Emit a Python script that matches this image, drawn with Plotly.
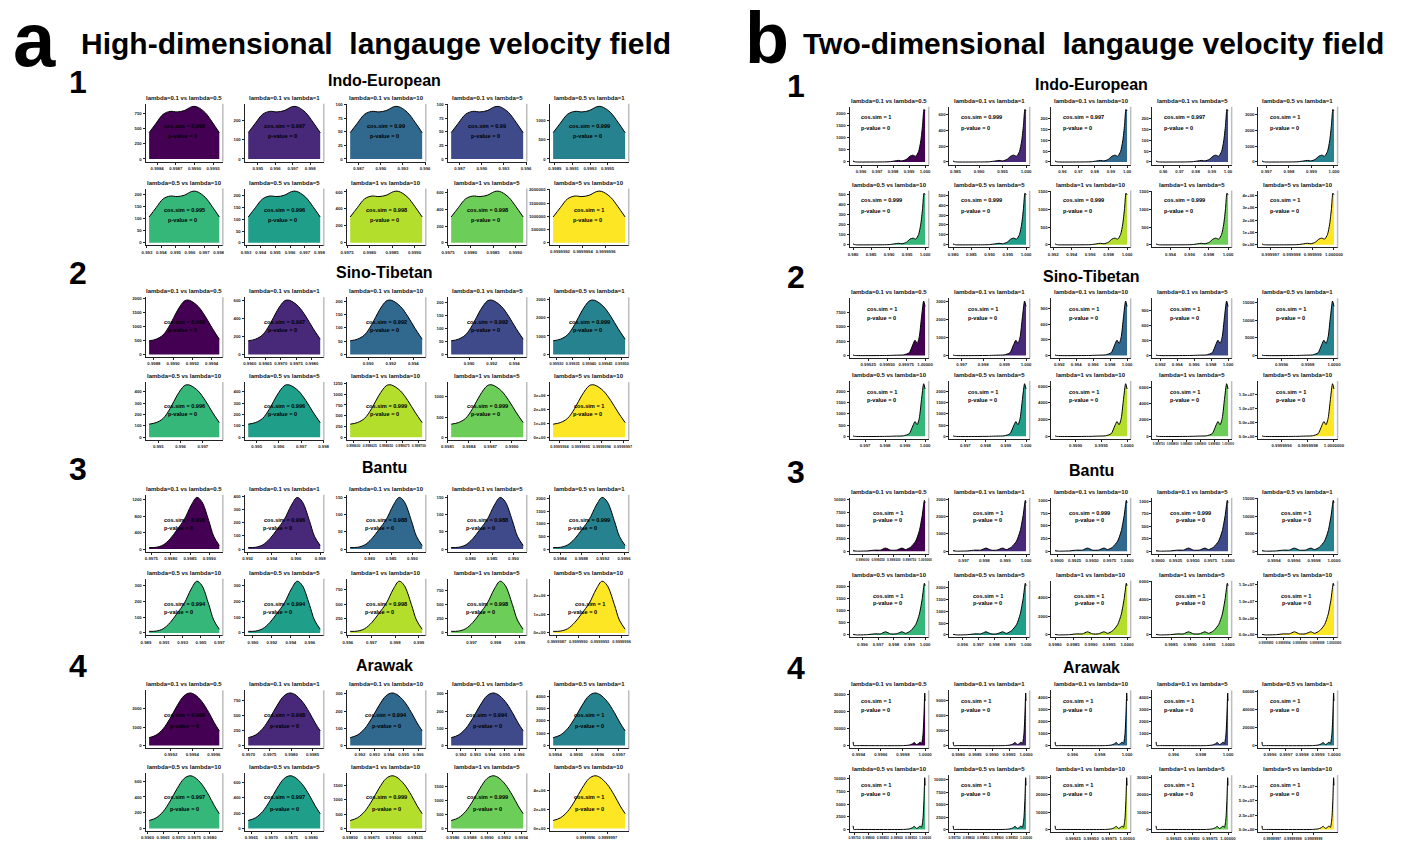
import plotly.graph_objects as go

W, H = 1402, 843
FONT = "Liberation Sans, Arial, sans-serif"

# ---------------- data ----------------
PAIR_LABELS = ["lambda=0.1 vs lambda=0.5", "lambda=0.1 vs lambda=1", "lambda=0.1 vs lambda=10",
               "lambda=0.1 vs lambda=5", "lambda=0.5 vs lambda=1", "lambda=0.5 vs lambda=10",
               "lambda=0.5 vs lambda=5", "lambda=1 vs lambda=10", "lambda=1 vs lambda=5",
               "lambda=5 vs lambda=10"]
PAIR_COLORS = ["#440154", "#482878", "#31688E", "#3E4A89", "#26828E",
               "#35B779", "#1F9E89", "#B4DE2C", "#6DCD59", "#FDE725"]
FAMILIES = ["Indo-European", "Sino-Tibetan", "Bantu", "Arawak"]
PANEL_TITLES = ["High-dimensional\u00a0 langauge velocity field", "Two-dimensional\u00a0 langauge velocity field"]

# density profiles (relative position across range, relative height)
A_T_IE = [0, 0.1, 0.2, 0.3, 0.4, 0.5, 0.6, 0.65, 0.7, 0.8, 0.9, 1.0]
A_Y_IE = [0.50, 0.68, 0.85, 0.905, 0.895, 0.92, 0.99, 1.0, 0.98, 0.88, 0.70, 0.50]
A_T_ST = [0, 0.1, 0.2, 0.3, 0.4, 0.5, 0.55, 0.6, 0.7, 0.8, 0.9, 1.0]
A_Y_ST = [0.25, 0.28, 0.36, 0.55, 0.80, 0.98, 1.0, 0.98, 0.88, 0.70, 0.48, 0.28]
A_T_BA = [0, 0.1, 0.2, 0.3, 0.4, 0.5, 0.6, 0.68, 0.75, 0.85, 0.92, 1.0]
A_Y_BA = [0.03, 0.035, 0.08, 0.2, 0.38, 0.57, 0.85, 1.0, 0.92, 0.55, 0.25, 0.07]
A_T_AR = [0, 0.1, 0.2, 0.3, 0.4, 0.5, 0.58, 0.65, 0.75, 0.85, 0.93, 1.0]
A_Y_AR = [0.15, 0.2, 0.32, 0.52, 0.76, 0.95, 1.0, 0.97, 0.84, 0.63, 0.43, 0.28]

B_T_IE = [0, 0.02, 0.05, 0.3, 0.5, 0.58, 0.63, 0.68, 0.74, 0.79, 0.83, 0.87, 0.91, 0.94, 0.965, 0.985, 1.0]
B_Y_IE = [0.02, 0.005, 0.0, 0.0, 0.004, 0.02, 0.03, 0.02, 0.05, 0.11, 0.13, 0.11, 0.2, 0.4, 0.7, 1.0, 0.97]
B_T_ST = [0, 0.02, 0.5, 0.6, 0.7, 0.78, 0.83, 0.86, 0.89, 0.92, 0.95, 0.98, 1.0]
B_Y_ST = [0.01, 0.0, 0.0, 0.005, 0.01, 0.05, 0.2, 0.28, 0.22, 0.35, 0.7, 1.0, 0.9]
B_T_BA = [0, 0.05, 0.2, 0.3, 0.38, 0.45, 0.52, 0.6, 0.68, 0.73, 0.8, 0.87, 0.92, 0.96, 0.99, 1.0]
B_Y_BA = [0.01, 0.0, 0.005, 0.02, 0.02, 0.06, 0.02, 0.02, 0.06, 0.03, 0.08, 0.2, 0.4, 0.7, 1.0, 0.95]
B_T_AR = [0, 0.01, 0.05, 0.7, 0.78, 0.82, 0.85, 0.88, 0.91, 0.93, 0.95, 0.97, 0.985, 0.995, 1.0]
B_Y_AR = [0.07, 0.0, 0.0, 0.0, 0.01, 0.03, 0.06, 0.02, 0.04, 0.07, 0.04, 0.2, 0.6, 1.0, 0.85]

# ---- panel a: Indo-European
A_IE_XMIN = [0.99827, 0.99445, 0.98585, 0.98585, 0.99888, 0.99315, 0.99315, 0.99757, 0.99757, 0.99999914]
A_IE_XMAX = [0.99940, 0.99857, 0.99560, 0.99560, 0.99970, 0.99805, 0.99805, 0.99917, 0.99917, 0.99999977]
A_IE_PEAK = [870, 270, 97, 97, 1350, 215, 220, 610, 620, 1950000]
A_IE_YSTEP = [250, 100, 25, 25, 500, 50, 50, 200, 200, 500000]
A_IE_COS = ["0.999", "0.997", "0.99", "0.99", "0.999", "0.995", "0.996", "0.998", "0.998", "1"]
A_IE_XTICKS = [["0.9984", "0.9987", "0.9990", "0.9993"], ["0.995", "0.996", "0.997", "0.998"],
               ["0.987", "0.990", "0.993", "0.996"], ["0.987", "0.990", "0.993", "0.996"],
               ["0.9989", "0.9991", "0.9993", "0.9995"],
               ["0.993", "0.994", "0.995", "0.996", "0.997", "0.998"],
               ["0.993", "0.994", "0.995", "0.996", "0.997", "0.998"],
               ["0.9975", "0.9980", "0.9985", "0.9990"], ["0.9975", "0.9980", "0.9985", "0.9990"],
               ["0.9999992", "0.9999994", "0.9999996"]]
# ---- panel a: Sino-Tibetan
A_ST_XMIN = [0.99875, 0.99595, 0.98841, 0.98841, 0.99929, 0.99459, 0.99462, 0.998595, 0.99815, 0.99999937]
A_ST_XMAX = [0.99948, 0.99827, 0.99478, 0.99478, 0.99951, 0.99774, 0.99785, 0.998705, 0.99916, 0.99999971]
A_ST_PEAK = [1950, 600, 205, 210, 2950, 460, 460, 1220, 1300, 3800000]
A_ST_YSTEP = [500, 200, 50, 50, 1000, 100, 100, 250, 500, 1000000]
A_ST_COS = ["0.999", "0.997", "0.992", "0.992", "0.999", "0.996", "0.996", "0.999", "0.999", "1"]
A_ST_XTICKS = [["0.9988", "0.9990", "0.9992", "0.9994"], ["0.9960", "0.9965", "0.9970", "0.9975", "0.9980"],
               ["0.990", "0.992", "0.994"], ["0.990", "0.992", "0.994"],
               ["0.99930", "0.99935", "0.99940", "0.99945", "0.99950"],
               ["0.995", "0.996", "0.997"], ["0.995", "0.996", "0.997", "0.998"],
               ["0.998600", "0.998625", "0.998650", "0.998675", "0.998700"],
               ["0.9981", "0.9984", "0.9987", "0.9990"],
               ["0.9999994", "0.9999995", "0.9999996", "0.9999997"]]
# ---- panel a: Bantu
A_BA_XMIN = [0.99744, 0.99205, 0.97545, 0.97545, 0.99827, 0.98934, 0.98950, 0.99610, 0.99615, 0.99999865]
A_BA_XMAX = [0.99926, 0.99800, 0.99227, 0.99227, 0.99962, 0.99700, 0.99710, 0.99914, 0.99914, 0.99999965]
A_BA_PEAK = [1250, 390, 150, 150, 2050, 330, 330, 900, 910, 2750000]
A_BA_YSTEP = [400, 100, 50, 50, 500, 100, 100, 250, 250, 1000000]
A_BA_COS = ["0.999", "0.996", "0.988", "0.988", "0.999", "0.994", "0.994", "0.998", "0.998", "1"]
A_BA_XTICKS = [["0.9975", "0.9980", "0.9985", "0.9990"], ["0.992", "0.994", "0.996", "0.998"],
               ["0.980", "0.985", "0.990"], ["0.980", "0.985", "0.990"],
               ["0.9984", "0.9988", "0.9992", "0.9996"],
               ["0.989", "0.991", "0.993", "0.995", "0.997"], ["0.990", "0.992", "0.994", "0.996"],
               ["0.996", "0.997", "0.998", "0.999"], ["0.997", "0.998", "0.999"],
               ["0.9999987", "0.9999990", "0.9999993", "0.9999996"]]
# ---- panel a: Arawak
A_AR_XMIN = [0.99900, 0.99699, 0.99133, 0.99133, 0.99939, 0.99605, 0.99642, 0.99850, 0.99858, 0.99999945]
A_AR_XMAX = [0.99965, 0.99868, 0.99627, 0.99627, 0.99973, 0.99830, 0.99822, 0.99933, 0.99942, 0.99999978]
A_AR_PEAK = [2850, 870, 305, 305, 4250, 670, 690, 1850, 1900, 5500000]
A_AR_YSTEP = [1000, 250, 100, 100, 1000, 200, 200, 500, 500, 2000000]
A_AR_COS = ["0.999", "0.998", "0.994", "0.994", "1", "0.997", "0.997", "0.999", "0.999", "1"]
A_AR_XTICKS = [["0.9992", "0.9994", "0.9996"], ["0.9970", "0.9975", "0.9980", "0.9985"],
               ["0.992", "0.993", "0.994", "0.995", "0.996"], ["0.992", "0.993", "0.994", "0.995", "0.996"],
               ["0.9994", "0.9995", "0.9996", "0.9997"],
               ["0.9960", "0.9965", "0.9970", "0.9975", "0.9980"], ["0.9965", "0.9970", "0.9975", "0.9980"],
               ["0.99850", "0.99875", "0.99900", "0.99925"], ["0.9986", "0.9988", "0.9990", "0.9992", "0.9994"],
               ["0.9999996", "0.9999997"]]

# ---- panel b: Indo-European
B_IE_XMIN = [0.9955, 0.9845, 0.9555, 0.9555, 0.9968, 0.9800, 0.9800, 0.9922, 0.9925, 0.9999966]
B_IE_XMAX = [1.0] * 10
B_IE_PEAK = [2150, 660, 240, 240, 3350, 510, 520, 1450, 1450, 4200000]
B_IE_YSTEP = [500, 200, 50, 50, 1000, 100, 100, 500, 500, 1000000]
B_IE_COS = ["1", "0.999", "0.997", "0.997", "1", "0.999", "0.999", "0.999", "0.999", "1"]
B_IE_XTICKS = [["0.996", "0.997", "0.998", "0.999", "1.000"], ["0.985", "0.990", "0.995", "1.000"],
               ["0.96", "0.97", "0.98", "0.99", "1.00"], ["0.96", "0.97", "0.98", "0.99", "1.00"],
               ["0.997", "0.998", "0.999", "1.000"],
               ["0.980", "0.985", "0.990", "0.995", "1.000"], ["0.980", "0.985", "0.990", "0.995", "1.000"],
               ["0.992", "0.994", "0.996", "0.998", "1.000"], ["0.994", "0.996", "0.998", "1.000"],
               ["0.999997", "0.999998", "0.999999", "1.000000"]]
# ---- panel b: Sino-Tibetan
B_ST_XMIN = [0.99905, 0.9966, 0.9915, 0.9915, 0.99945, 0.9964, 0.9964, 0.9986, 0.99974, 0.99999945]
B_ST_XMAX = [1.0] * 10
B_ST_PEAK = [9500, 3000, 1050, 1100, 15500, 2350, 2350, 6300, 6400, 19000000]
B_ST_YSTEP = [2500, 1000, 300, 300, 5000, 500, 500, 2000, 2000, 5000000]
B_ST_COS = ["1"] * 10
B_ST_XTICKS = [["0.99925", "0.99950", "0.99975", "1.00000"], ["0.997", "0.998", "0.999", "1.000"],
               ["0.992", "0.994", "0.996", "0.998", "1.000"], ["0.992", "0.994", "0.996", "0.998", "1.000"],
               ["0.9996", "0.9998", "1.0000"],
               ["0.997", "0.998", "0.999", "1.000"], ["0.997", "0.998", "0.999", "1.000"],
               ["0.9990", "0.9995", "1.0000"],
               ["0.999750", "0.999800", "0.999850", "0.999900", "0.999950", "1.000000"],
               ["0.9999996", "0.9999998", "1.0000000"]]
# ---- panel b: Bantu
B_BA_XMIN = [0.99885, 0.9965, 0.9897, 0.9897, 0.99928, 0.9954, 0.9954, 0.9980, 0.9981, 0.99999915]
B_BA_XMAX = [1.0] * 10
B_BA_PEAK = [9800, 2950, 1000, 1020, 14500, 2150, 2200, 5600, 5800, 15500000]
B_BA_YSTEP = [2500, 1000, 250, 250, 5000, 500, 500, 2000, 2000, 5000000]
B_BA_COS = ["1", "1", "0.999", "0.999", "1", "1", "1", "1", "1", "1"]
B_BA_XTICKS = [["0.999000", "0.999250", "0.999500", "0.999750", "1.000000"], ["0.997", "0.998", "0.999", "1.000"],
               ["0.9900", "0.9925", "0.9950", "0.9975", "1.0000"], ["0.9900", "0.9925", "0.9950", "0.9975", "1.0000"],
               ["0.9994", "0.9996", "0.9998", "1.0000"],
               ["0.996", "0.997", "0.998", "0.999", "1.000"], ["0.996", "0.997", "0.998", "0.999", "1.000"],
               ["0.9980", "0.9985", "0.9990", "0.9995", "1.0000"], ["0.9985", "0.9990", "0.9995", "1.0000"],
               ["0.9999992", "0.9999994", "0.9999996", "0.9999998", "1.0000000"]]
# ---- panel b: Arawak
B_AR_XMIN = [0.99935, 0.99785, 0.9947, 0.9947, 0.99955, 0.99745, 0.99745, 0.9990, 0.9990, 0.99999965]
B_AR_XMAX = [1.0] * 10
B_AR_PEAK = [31000, 10500, 4400, 4400, 58000, 10200, 10400, 30000, 30000, 90000000]
B_AR_YSTEP = [10000, 3000, 1000, 1000, 20000, 2500, 2500, 10000, 10000, 25000000]
B_AR_COS = ["1"] * 10
B_AR_XTICKS = [["0.9994", "0.9996", "0.9998", "1.0000"], ["0.9980", "0.9985", "0.9990", "0.9995", "1.0000"],
               ["0.996", "0.998", "1.000"], ["0.996", "0.998", "1.000"],
               ["0.9996", "0.9997", "0.9998", "0.9999", "1.0000"],
               ["0.99750", "0.99800", "0.99850", "0.99900", "0.99950", "1.00000"],
               ["0.99750", "0.99800", "0.99850", "0.99900", "0.99950", "1.00000"],
               ["0.99925", "0.99950", "0.99975", "1.00000"], ["0.99925", "0.99950", "0.99975", "1.00000"],
               ["0.9999997", "0.9999998", "0.9999999"]]

# y-label format of the last (5 vs 10) panel of each block: "" plain, else python format
SCI_FMT = {("a", 0): "", ("a", 1): ".0e", ("a", 2): ".0e", ("a", 3): ".0e",
           ("b", 0): ".0e", ("b", 1): ".1e", ("b", 2): ".1e", ("b", 3): ".1e"}

BLOCKS = {
    ("a", 0): (A_T_IE, A_Y_IE, A_IE_XMIN, A_IE_XMAX, A_IE_PEAK, A_IE_YSTEP, A_IE_COS, A_IE_XTICKS),
    ("a", 1): (A_T_ST, A_Y_ST, A_ST_XMIN, A_ST_XMAX, A_ST_PEAK, A_ST_YSTEP, A_ST_COS, A_ST_XTICKS),
    ("a", 2): (A_T_BA, A_Y_BA, A_BA_XMIN, A_BA_XMAX, A_BA_PEAK, A_BA_YSTEP, A_BA_COS, A_BA_XTICKS),
    ("a", 3): (A_T_AR, A_Y_AR, A_AR_XMIN, A_AR_XMAX, A_AR_PEAK, A_AR_YSTEP, A_AR_COS, A_AR_XTICKS),
    ("b", 0): (B_T_IE, B_Y_IE, B_IE_XMIN, B_IE_XMAX, B_IE_PEAK, B_IE_YSTEP, B_IE_COS, B_IE_XTICKS),
    ("b", 1): (B_T_ST, B_Y_ST, B_ST_XMIN, B_ST_XMAX, B_ST_PEAK, B_ST_YSTEP, B_ST_COS, B_ST_XTICKS),
    ("b", 2): (B_T_BA, B_Y_BA, B_BA_XMIN, B_BA_XMAX, B_BA_PEAK, B_BA_YSTEP, B_BA_COS, B_BA_XTICKS),
    ("b", 3): (B_T_AR, B_Y_AR, B_AR_XMIN, B_AR_XMAX, B_AR_PEAK, B_AR_YSTEP, B_AR_COS, B_AR_XTICKS),
}

# ---------------- layout geometry (pixels) ----------------
COLS = {"a": ([140, 240, 343, 445, 548], [218, 320, 423, 525, 628]),
        "b": ([851, 952, 1055, 1157, 1264], [931, 1033, 1135, 1237, 1344])}
ROWS = {"a": [(102, 160), (187, 244), (296, 356), (381, 439), (494, 551), (578, 635), (690, 748), (773, 831)],
        "b": [(105, 163), (189, 246), (297, 357), (380, 438), (497, 553), (580, 637), (690, 748), (775, 832)]}
# text placement inside panels: (x, y_cos, x_p, y_p, anchor)
TEXT_POS = {("a", 0): (0.50, 0.62, 0.48, 0.44, "center"), ("a", 1): (0.50, 0.58, 0.48, 0.45, "center"),
            ("a", 2): (0.51, 0.56, 0.42, 0.41, "center"), ("a", 3): (0.50, 0.58, 0.50, 0.38, "center"),
            ("b", 0): (0.12, 0.83, 0.12, 0.64, "left"), ("b", 1): (0.20, 0.82, 0.20, 0.67, "left"),
            ("b", 2): (0.48, 0.73, 0.48, 0.60, "center"), ("b", 3): (0.12, 0.82, 0.12, 0.66, "left")}
HEAD_Y = {"a": [79, 271, 467, 665], "b": [83, 275, 470, 667]}
NUM_X = {"a": 72, "b": 797}
FAM_X = {"a": 381, "b": 1095}
TICK_SIZE = 4.3


def px(x):
    return x / W


def py(y):
    return 1 - y / H


fig = go.Figure()
layout = dict(width=W, height=H, margin=dict(l=0, r=0, t=0, b=0),
              paper_bgcolor="white", plot_bgcolor="white", showlegend=False,
              font=dict(family=FONT, color="black"))
annotations = []
shapes = []

n = 0
for panel in ("a", "b"):
    lefts, rights = COLS[panel]
    for fi in range(4):
        T, Y, XMIN, XMAX, PEAK, YSTEP, COS, XTICKS = BLOCKS[(panel, fi)]
        tx, tyc, tpx, typ, anc = TEXT_POS[(panel, fi)]
        for k in range(10):
            n += 1
            row = fi * 2 + k // 5
            col = k % 5
            l, r = lefts[col], rights[col]
            t, b = ROWS[panel][row]
            sfx = "" if n == 1 else str(n)
            xmin, xmax, peak = XMIN[k], XMAX[k], PEAK[k]
            xs = [xmin + tt * (xmax - xmin) for tt in T]
            ys = [v * peak for v in Y]
            fig.add_trace(go.Scatter(
                x=xs, y=ys, xaxis="x" + sfx, yaxis="y" + sfx, mode="lines",
                line=dict(color="black", width=1, shape="spline",
                          smoothing=1.0 if panel == "a" else 0.6),
                fill="tozeroy", fillcolor=PAIR_COLORS[k], hoverinfo="skip"))
            span = xmax - xmin
            xr = [xmin - 0.05 * span, xmax + 0.05 * span]
            xt = XTICKS[k]
            xv = [float(s) for s in xt]
            # shrink crowded x tick labels so that neighbours do not collide
            vis = [v for v in xv if xr[0] <= v <= xr[1]]
            xsize = TICK_SIZE
            if len(vis) > 1:
                gap = min(b2 - a2 for a2, b2 in zip(vis[:-1], vis[1:])) / (xr[1] - xr[0]) * (r - l)
                maxlen = max(len(s) for s in xt)
                xsize = max(2.4, min(TICK_SIZE, 0.92 * gap / (0.56 * maxlen)))
            ystep = YSTEP[k]
            yvals = []
            v = 0
            while v <= peak * 1.04:
                yvals.append(v)
                v += ystep
            fmtc = SCI_FMT[(panel, fi)] if k == 9 else ""
            ytext = [format(v, fmtc) if fmtc else str(int(round(v))) for v in yvals]
            layout["xaxis" + sfx] = dict(
                domain=[px(l), px(r)], anchor="y" + sfx, range=xr,
                tickvals=xv, ticktext=xt, tickangle=0,
                showline=True, linecolor="#222222", linewidth=1, ticks="outside", ticklen=2,
                tickwidth=0.8, tickcolor="#222222", showgrid=False, zeroline=False,
                tickfont=dict(size=xsize, family=FONT, color="#222222", weight="bold"),
                fixedrange=True)
            layout["yaxis" + sfx] = dict(
                domain=[py(b), py(t)], anchor="x" + sfx,
                range=[-0.05 * peak, peak * 1.05],
                tickvals=yvals, ticktext=ytext, tickangle=0,
                showline=True, linecolor="#222222", linewidth=1, ticks="outside", ticklen=2,
                tickwidth=0.8, tickcolor="#222222", showgrid=False, zeroline=False,
                tickfont=dict(size=TICK_SIZE, family=FONT, color="#222222", weight="bold"),
                fixedrange=True)
            # right grey border
            shapes.append(dict(type="line", xref="x" + sfx + " domain", yref="y" + sfx + " domain",
                               x0=1, x1=1, y0=0, y1=1, line=dict(color="#BDBDBD", width=1.5)))
            # subplot title
            annotations.append(dict(x=px((l + r) / 2), y=py(t - 6), xref="paper", yref="paper",
                                    text="<b>" + PAIR_LABELS[k] + "</b>", showarrow=False,
                                    xanchor="center", yanchor="middle",
                                    font=dict(size=6, family=FONT, color="#111111")))
            annotations.append(dict(x=tx, y=tyc, xref="x" + sfx + " domain", yref="y" + sfx + " domain",
                                    text="<b>cos.sim = " + COS[k] + "</b>", showarrow=False,
                                    xanchor=anc, yanchor="middle",
                                    font=dict(size=5.6, family=FONT, color="black")))
            annotations.append(dict(x=tpx, y=typ, xref="x" + sfx + " domain", yref="y" + sfx + " domain",
                                    text="<b>p-value = 0</b>", showarrow=False,
                                    xanchor=anc, yanchor="middle",
                                    font=dict(size=5.6, family=FONT, color="black")))

        # family header and number
        annotations.append(dict(x=px(FAM_X[panel]), y=py(HEAD_Y[panel][fi]), xref="paper", yref="paper",
                                text="<b>" + FAMILIES[fi] + "</b>", showarrow=False,
                                xanchor="center", yanchor="middle",
                                font=dict(size=16, family=FONT, color="black")))
        annotations.append(dict(x=px(NUM_X[panel]), y=py(HEAD_Y[panel][fi] + 1), xref="paper", yref="paper",
                                text="<b>" + str(fi + 1) + "</b>", showarrow=False,
                                xanchor="center", yanchor="middle",
                                font=dict(size=32, family=FONT, color="black")))

# panel letters and titles
annotations.append(dict(x=px(28), y=py(38), xref="paper", yref="paper", text="<b>a</b>",
                        showarrow=False, xanchor="center", yanchor="middle",
                        font=dict(size=76, family=FONT, color="black")))
annotations.append(dict(x=px(768), y=py(36), xref="paper", yref="paper", text="<b>b</b>",
                        showarrow=False, xanchor="center", yanchor="middle",
                        font=dict(size=72, family=FONT, color="black")))
annotations.append(dict(x=px(373), y=py(42), xref="paper", yref="paper", text="<b>" + PANEL_TITLES[0] + "</b>",
                        showarrow=False, xanchor="center", yanchor="middle",
                        font=dict(size=30, family=FONT, color="black")))
annotations.append(dict(x=px(1097), y=py(42), xref="paper", yref="paper", text="<b>" + PANEL_TITLES[1] + "</b>",
                        showarrow=False, xanchor="center", yanchor="middle",
                        font=dict(size=30, family=FONT, color="black")))

layout["annotations"] = annotations
layout["shapes"] = shapes
fig.update_layout(**layout)
fig.write_html("out.html")
